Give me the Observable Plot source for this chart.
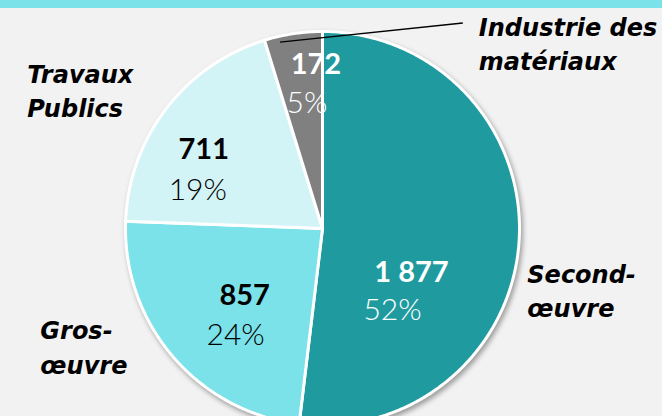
<!DOCTYPE html>
<html><head><meta charset="utf-8">
<script src="https://cdn.jsdelivr.net/npm/d3@7"></script>
<script src="https://cdn.jsdelivr.net/npm/@observablehq/plot@0.6"></script>
<style>
html,body{margin:0;padding:0;}
body{width:662px;height:416px;overflow:hidden;background:linear-gradient(#7ae2e8 0 8px,#f2f2f2 8px 100%);}
</style></head><body><div id="chart"></div>
<script>
// ---- data ----
const categories = ["Second-œuvre", "Gros-œuvre", "Travaux Publics", "Industrie des matériaux"];
const categoryLabels = ["Second-\nœuvre", "Gros-\nœuvre", "Travaux\nPublics", "Industrie des\nmatériaux"];
const values = [1877, 857, 711, 172];
const valueLabels = ["1 877", "857", "711", "172"];
const percentLabels = ["52%", "24%", "19%", "5%"];

// ---- styles ----
const sliceColors = ["#1f9ba0", "#7ae2e8", "#d3f4f6", "#808080"];
const textColors = ["#ffffff", "#000000", "#000000", "#ffffff"];
// label nudges in pixels (from slice centroid / outer anchor)
const numOffsets = [[-29, 46], [12, 0], [-25, 2], [11, -38]];
const pctOffsets = [[-48, 84], [3, 40], [-31, 43], [2, 1]];
const outerOffsets = [[-41, 74], [-95, -15], [-100, 38], [193, 85]];

// ---- layout ----
const W = 662, H = 416, CX = 322, CY = 228, R = 197;
const rad = d => d * Math.PI / 180;
const polar = (a, r) => [r * Math.sin(rad(a)), r * Math.cos(rad(a))];
const shift = ([x, y], dx, dy) => [x + dx / R, y - dy / R];

const total = d3.sum(values);
let acc = 0;
const slices = values.map((v, i) => {
  const a0 = acc / total * 360; acc += v;
  const a1 = acc / total * 360;
  return {i, name: categories[i], a0, a1, mid: (a0 + a1) / 2};
});

const slicePts = [];
for (const s of slices) {
  slicePts.push({name: s.name, color: sliceColors[s.i], x: 0, y: 0});
  const n = Math.max(2, Math.ceil((s.a1 - s.a0) / 0.5));
  for (let k = 0; k <= n; k++) {
    const [x, y] = polar(s.a0 + (s.a1 - s.a0) * k / n, 1);
    slicePts.push({name: s.name, color: sliceColors[s.i], x, y});
  }
  slicePts.push({name: s.name, color: sliceColors[s.i], x: 0, y: 0});
}

const numLabels = slices.map(s => {
  const [x, y] = shift(polar(s.mid, 0.6), ...numOffsets[s.i]);
  return {x, y, text: valueLabels[s.i], color: textColors[s.i]};
});
const pctLabelsData = slices.map(s => {
  const [x, y] = shift(polar(s.mid, 0.6), ...pctOffsets[s.i]);
  return {x, y, text: percentLabels[s.i], color: textColors[s.i]};
});
const outerLabels = slices.map(s => {
  const [x, y] = shift(polar(s.mid, 1.25), ...outerOffsets[s.i]);
  return {x, y, text: categoryLabels[s.i]};
});

// leader line for the small slice
const ind = slices[3];
const inner = polar(ind.a0 + 0.25 * (ind.a1 - ind.a0), 0.97);
const outer = shift([outerLabels[3].x, outerLabels[3].y], -16, -47);
const leader = [{x1: inner[0], y1: inner[1], x2: outer[0], y2: outer[1]}];

const svg = Plot.plot({
  width: W, height: H, margin: 0,
  style: {background: "transparent", overflow: "visible"},
  x: {domain: [-CX / R, (W - CX) / R], axis: null},
  y: {domain: [-(H - CY) / R, CY / R], axis: null},
  marks: [
    Plot.line(slicePts, {x: "x", y: "y", z: "name", fill: "color", stroke: "#ffffff", strokeWidth: 3, strokeLinejoin: "round", curve: "linear"}),
    Plot.link(leader, {x1: "x1", y1: "y1", x2: "x2", y2: "y2", stroke: "#000000", strokeWidth: 1.3}),
    Plot.text(numLabels, {x: "x", y: "y", text: "text", fill: "color", lineAnchor: "bottom", textAnchor: "middle", fontFamily: "Lato", fontWeight: "bold", fontSize: 29}),
    Plot.text(pctLabelsData, {x: "x", y: "y", text: "text", fill: "color", lineAnchor: "bottom", textAnchor: "middle", fontFamily: "Lato", fontWeight: 300, fontSize: 30}),
    Plot.text(outerLabels, {x: "x", y: "y", text: "text", fill: "#000000", lineAnchor: "bottom", textAnchor: "start", lineHeight: 1.42, fontFamily: "DejaVu Sans", fontWeight: "bold", fontStyle: "oblique", fontSize: 24})
  ]
});
const g = svg.querySelector('g[aria-label="line"]');
if (g) g.style.filter = "drop-shadow(2px 3px 2.5px rgba(0,0,0,0.35))";
document.getElementById("chart").appendChild(svg);
</script>
</body></html>
